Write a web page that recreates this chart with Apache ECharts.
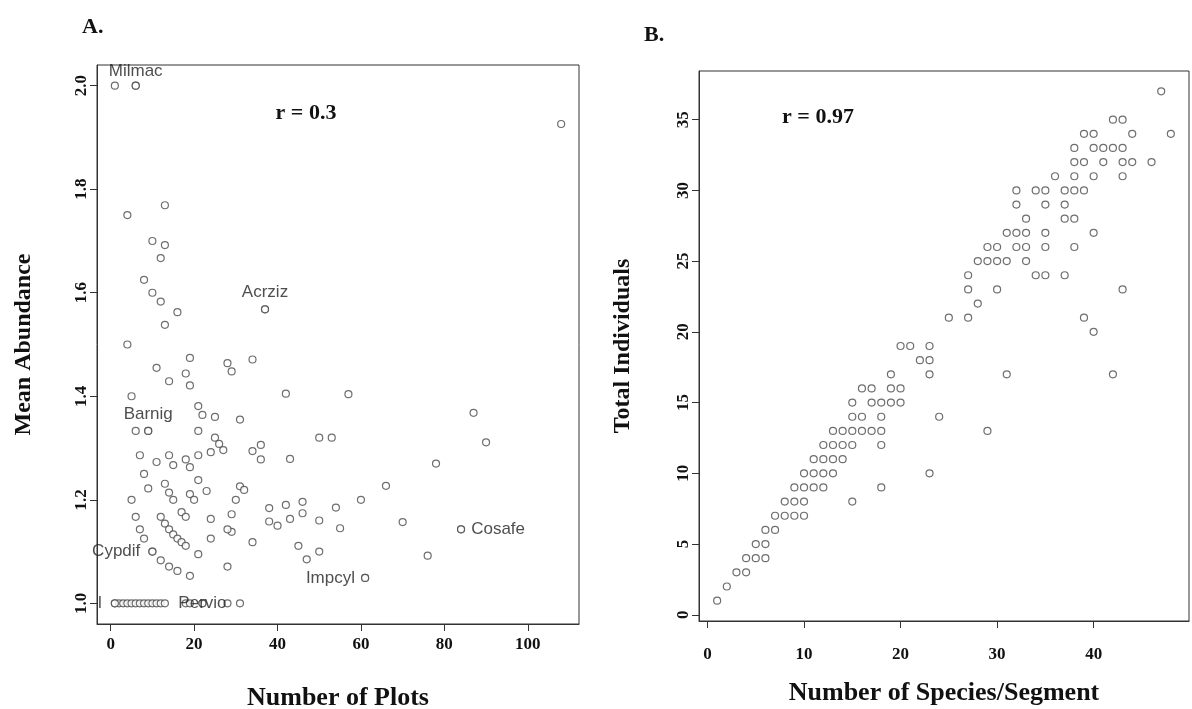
<!DOCTYPE html>
<html>
<head>
<meta charset="utf-8">
<script src="https://cdn.jsdelivr.net/npm/echarts@6/dist/echarts.min.js"></script>
<style>
html,body{margin:0;padding:0;background:#fff;}
#c{width:1192px;height:709px;}
</style>
</head>
<body>
<div id="c"></div>
<script>
// ---------- Panel A data: Number of Plots vs Mean Abundance ----------
const plotsA = [
  1,2,3,4,5,6,7,8,9,10,11,12,13,18,19,22,28,31,
  1,6,4,13,10,13,12,8,10,12,16,13,37,4,19,11,18,28,29,34,14,19,42,57,5,21,22,25,31,6,9,21,
  25,26,27,34,36,50,53,36,43,31,32,66,30,29,29,38,42,46,60,54,38,40,43,46,50,55,70,34,45,47,50,76,61,28,
  87,90,78,84,108,
  7,14,11,15,18,19,21,24,8,13,9,14,15,21,23,19,20,5,24,17,18,6,12,13,14,15,16,17,18,7,8,28,24,10,12,14,16,19,21
];
const abundA = [
  1,1,1,1,1,1,1,1,1,1,1,1,1,1,1,1,1,1,
  2.0,2.0,1.75,1.769,1.7,1.692,1.667,1.625,1.6,1.583,1.5625,1.538,1.568,1.5,1.474,1.455,1.444,1.464,1.448,1.471,1.429,1.421,1.405,1.404,1.4,1.381,1.364,1.36,1.355,1.333,1.333,1.333,
  1.32,1.308,1.296,1.294,1.306,1.32,1.32,1.278,1.279,1.226,1.219,1.227,1.2,1.172,1.138,1.184,1.19,1.196,1.2,1.185,1.158,1.15,1.163,1.174,1.16,1.145,1.157,1.118,1.111,1.085,1.1,1.092,1.049,1.071,
  1.368,1.311,1.27,1.143,1.926,
  1.286,1.286,1.273,1.267,1.278,1.263,1.286,1.292,1.25,1.231,1.222,1.214,1.2,1.238,1.217,1.211,1.2,1.2,1.163,1.176,1.167,1.167,1.167,1.154,1.143,1.133,1.125,1.118,1.111,1.143,1.125,1.143,1.125,1.1,1.083,1.071,1.0625,1.053,1.095
];
const labelNamesA = ['Milmac','Barnig','Acrziz','Cypdif','Impcyl','Cosafe','Pervio','l'];
const labelXA = [6,9,37,10,61,84,22,1];
const labelYA = [2.0,1.333,1.568,1.1,1.049,1.143,1.0,1.0];
const xTicksA = [0,20,40,60,80,100];
const yTicksA = [1.0,1.2,1.4,1.6,1.8,2.0];
const corrA = 'r = 0.3';

// ---------- Panel B data: Species/Segment vs Total Individuals ----------
const speciesB = [
  1,2,3,4,4,5,6,5,6,6,7,7,8,9,10,8,9,10,15,9,10,11,12,18,10,11,12,13,23,11,12,13,14,12,13,14,15,18,
  13,14,15,16,17,18,29,15,16,18,24,15,17,18,19,20,16,17,19,20,19,23,31,42,22,23,20,21,23,40,25,27,39,28,
  27,30,43,27,34,35,37,28,29,30,31,33,29,30,32,33,35,38,31,32,33,35,40,33,37,38,32,35,37,32,34,35,37,38,39,
  36,38,40,43,38,39,41,43,44,46,38,40,41,42,43,39,40,44,48,42,43,47
];
const individualsB = [
  1,2,3,3,4,4,4,5,5,6,6,7,7,7,7,8,8,8,8,9,9,9,9,9,10,10,10,10,10,11,11,11,11,12,12,12,12,12,
  13,13,13,13,13,13,13,14,14,14,14,15,15,15,15,15,16,16,16,16,17,17,17,17,18,18,19,19,19,20,21,21,21,22,
  23,23,23,24,24,24,24,25,25,25,25,25,26,26,26,26,26,26,27,27,27,27,27,28,28,28,29,29,29,30,30,30,30,30,30,
  31,31,31,31,32,32,32,32,32,32,33,33,33,33,33,34,34,34,34,35,35,37
];
const xTicksB = [0,10,20,30,40];
const yTicksB = [0,5,10,15,20,25,30,35];
const corrB = 'r = 0.97';

// ---------- build ----------
const serif = '"Liberation Serif","DejaVu Serif",serif';
const sans = '"Liberation Sans","DejaVu Sans",sans-serif';
const labelPlacement = {
  Milmac:['top',2], Barnig:['top',4], Acrziz:['top',4], Cypdif:['left',8],
  Impcyl:['left',6], Cosafe:['right',6], Pervio:['inside',0], l:['left',9]
};
const zip = (a,b)=>a.map((v,i)=>[v,b[i]]);
const ptStyle = {color:'#fff', borderColor:'#4a4a4a', borderWidth:1.2};

function valueAxis(gridIndex, min, max, ticks, fmt, rotate, margin, name, nameGap, nameSize){
  return {
    type:'value', gridIndex, min, max,
    name, nameLocation:'middle', nameGap,
    nameTextStyle:{fontFamily:serif, fontWeight:'bold', fontSize:nameSize, color:'#111'},
    axisLine:{show:true, onZero:false, lineStyle:{color:'#333', width:1}},
    axisTick:{show:true, length:7, customValues:ticks, lineStyle:{color:'#333'}},
    axisLabel:{customValues:ticks, formatter:fmt, rotate, margin,
      fontFamily:serif, fontWeight:'bold', fontSize:17, color:'#111'},
    splitLine:{show:false}
  };
}

const option = {
  animation:false,
  backgroundColor:'#fff',
  title:[
    {text:'A.', left:77, top:11, textStyle:{fontFamily:serif, fontWeight:'bold', fontSize:22, color:'#111'}},
    {text:'B.', left:639, top:19, textStyle:{fontFamily:serif, fontWeight:'bold', fontSize:22, color:'#111'}},
    {text:corrA, left:301, top:108, textAlign:'center', textVerticalAlign:'middle',
      textStyle:{fontFamily:serif, fontWeight:'bold', fontSize:22, color:'#111'}},
    {text:corrB, left:813, top:112, textAlign:'center', textVerticalAlign:'middle',
      textStyle:{fontFamily:serif, fontWeight:'bold', fontSize:22, color:'#111'}}
  ],
  grid:[
    {left:97, top:65, width:482, height:559, outerBoundsMode:'none', containLabel:false,
      show:true, borderColor:'#333', borderWidth:1, backgroundColor:'transparent'},
    {left:699, top:71, width:490, height:550, outerBoundsMode:'none', containLabel:false,
      show:true, borderColor:'#333', borderWidth:1, backgroundColor:'transparent'}
  ],
  xAxis:[
    valueAxis(0, -3.28, 112.28, xTicksA, v=>String(v), 0, 12, 'Number of Plots', 61, 26),
    valueAxis(1, -0.88, 49.88, xTicksB, v=>String(v), 0, 25, 'Number of Species/Segment', 59, 26)
  ],
  yAxis:[
    valueAxis(0, 0.96, 2.04, yTicksA, v=>v.toFixed(1), 90, 7, 'Mean Abundance', 61, 24),
    valueAxis(1, -0.44, 38.44, yTicksB, v=>String(v), 90, 7, 'Total Individuals', 64, 24)
  ],
  series:[
    {type:'scatter', xAxisIndex:0, yAxisIndex:0, symbol:'circle', symbolSize:7,
      itemStyle:ptStyle, data:zip(plotsA, abundA)},
    {type:'scatter', xAxisIndex:0, yAxisIndex:0, symbol:'circle', symbolSize:7,
      itemStyle:ptStyle, z:3,
      data:labelNamesA.map((n,i)=>({
        name:n, value:[labelXA[i], labelYA[i]],
        label:{show:true, formatter:n, position:labelPlacement[n][0], distance:labelPlacement[n][1],
          fontFamily:sans, fontSize:17, color:'#222'}
      }))},
    {type:'scatter', xAxisIndex:1, yAxisIndex:1, symbol:'circle', symbolSize:7,
      itemStyle:ptStyle, data:zip(speciesB, individualsB)}
  ]
};
const chart = echarts.init(document.getElementById('c'), null, {renderer:'canvas'});
chart.setOption(option);
</script>
</body>
</html>
